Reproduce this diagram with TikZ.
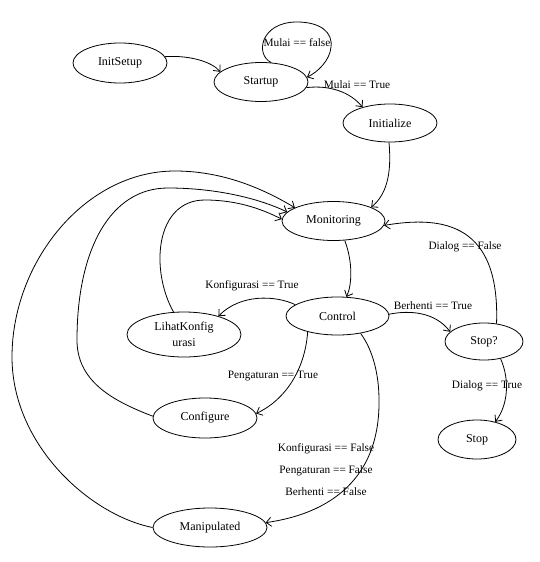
\documentclass[tikz,border=0pt]{standalone}
\usepackage{fontspec}
\setmainfont{Liberation Serif}
\usetikzlibrary{shapes.geometric,arrows.meta}
\begin{document}
\begin{tikzpicture}[x=1pt,y=-1pt,
  state/.style={draw, ellipse, line width=0.8pt, inner sep=0pt, font=\fontsize{12}{16}\selectfont, align=center},
  lbl/.style={font=\fontsize{11.3}{13}\selectfont, inner sep=0pt, text height=8pt, text depth=2.5pt},
  edge/.style={draw, line width=0.8pt, -{Straight Barb[length=5pt,width=9pt]}}]
\useasboundingbox (0,0) rectangle (540,562);
% states
\node[state, minimum width=94pt, minimum height=40pt] (init) at (120,63) {InitSetup};
\node[state, minimum width=94pt, minimum height=39pt] (startup) at (261,82) {Startup};
\node[state, minimum width=94pt, minimum height=38pt] (initz) at (390,123) {Initialize};
\node[state, minimum width=103pt, minimum height=39pt] (mon) at (333.5,221) {Monitoring};
\node[state, minimum width=103pt, minimum height=38pt] (ctrl) at (337.5,316) {Control};
\node[state, minimum width=114pt, minimum height=45pt] (lihat) at (184,334.5) {LihatKonfig\\urasi};
\node[state, minimum width=78pt, minimum height=37pt] (stopq) at (484,341.5) {Stop?};
\node[state, minimum width=78pt, minimum height=39pt] (stop) at (477,439.5) {Stop};
\node[state, minimum width=104pt, minimum height=40pt] (conf) at (205,418) {Configure};
\node[state, minimum width=114pt, minimum height=39pt] (manip) at (210,527.5) {Manipulated};
% edges
\draw[edge] (init.8) .. controls (190,55) and (212,62) .. (startup.166);
\draw[edge] (startup.62) .. controls (255,55) and (260,22) .. (297,22) .. controls (320,22) and (333,32) .. (331,47) .. controls (330,60) and (318,72) .. (startup.6);
\draw[edge] (startup.-7) .. controls (330,85) and (350,92) .. (initz.150);
\draw[edge] (initz.-93) .. controls (392,175) and (386,195) .. (mon.20);
\draw[edge] (mon.-60) .. controls (353,262) and (352,285) .. (ctrl.65);
\draw[edge] (ctrl.165) .. controls (275,295) and (240,294) .. (lihat.28);
\draw[edge] (lihat.115) .. controls (150,270) and (155,200) .. (205,200) .. controls (235,200) and (260,208) .. (mon.178);
\draw[edge] (conf.178) .. controls (110,400) and (77,380) .. (77,340) .. controls (77,250) and (110,188) .. (168,188) .. controls (215,188) and (258,198) .. (mon.169);
\draw[edge] (manip.180) .. controls (90,515) and (12,445) .. (12,357) .. controls (12,262) and (85,171) .. (175,171) .. controls (222,171) and (262,188) .. (mon.161);
\draw[edge] (ctrl.-152) .. controls (305,370) and (285,400) .. (conf.5);
\draw[edge] (ctrl.-37) .. controls (373,350) and (379,375) .. (379,400) .. controls (380,470) and (340,512) .. (manip.5);
\draw[edge] (ctrl.2) .. controls (410,310) and (435,312) .. (stopq.164);
\draw[edge] (stopq.55) .. controls (500,225) and (445,215) .. (mon.-5);
\draw[edge] (stopq.-46) .. controls (510,380) and (508,405) .. (stop.44);
% labels
\node[lbl] (l1) at (297,44) {Mulai == false};
\node[lbl] (l2) at (357,86) {Mulai == True};
\node[lbl] (l3) at (252,286) {Konfigurasi == True};
\node[lbl] (l4) at (433,307) {Berhenti == True};
\node[lbl] (l5) at (465,247) {Dialog == False};
\node[lbl] (l6) at (273,376) {Pengaturan == True};
\node[lbl] (l7) at (487,386) {Dialog == True};
\node[lbl] (l8) at (326,449) {Konfigurasi == False};
\node[lbl] (l9) at (326,471) {Pengaturan == False};
\node[lbl] (l10) at (326,493) {Berhenti == False};
\end{tikzpicture}
\end{document}
